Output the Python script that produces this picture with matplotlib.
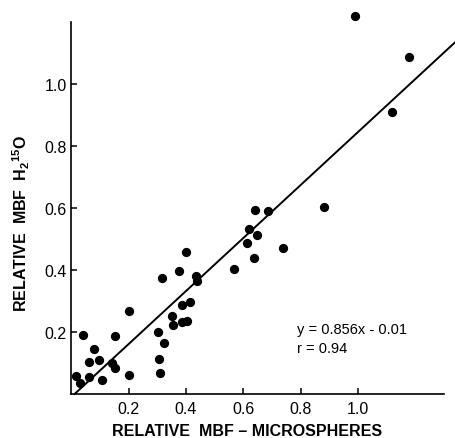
import matplotlib
matplotlib.use("Agg")
import matplotlib.pyplot as plt
import numpy as np

plt.rcParams['font.family'] = ['Liberation Sans', 'DejaVu Sans']
plt.rcParams['mathtext.fontset'] = 'custom'
plt.rcParams['mathtext.rm'] = 'Liberation Sans'
plt.rcParams['mathtext.bf'] = 'Liberation Sans:bold'

# relative MBF, microspheres (x) vs H2-15-O (y)
x_micro = [0.017, 0.031, 0.041, 0.064, 0.064, 0.079, 0.098, 0.107, 0.142, 0.154,
           0.154, 0.202, 0.203, 0.301, 0.306, 0.308, 0.316, 0.324, 0.353, 0.355,
           0.376, 0.386, 0.386, 0.403, 0.402, 0.416, 0.436, 0.438, 0.568, 0.612,
           0.621, 0.640, 0.639, 0.649, 0.687, 0.738, 0.882, 0.991, 1.118, 1.177]
y_h2o = [0.057, 0.035, 0.190, 0.054, 0.105, 0.145, 0.111, 0.046, 0.100, 0.084,
         0.186, 0.269, 0.061, 0.199, 0.113, 0.067, 0.376, 0.165, 0.253, 0.223,
         0.398, 0.287, 0.233, 0.236, 0.459, 0.296, 0.380, 0.366, 0.403, 0.487,
         0.532, 0.594, 0.438, 0.515, 0.591, 0.473, 0.605, 1.220, 0.911, 1.089]

slope = 0.856
intercept = -0.01
r_value = 0.94
ticks = [0.2, 0.4, 0.6, 0.8, 1.0]
tick_labels = ['0.2', '0.4', '0.6', '0.8', '1.0']

fig = plt.figure(figsize=(4.56, 4.39), dpi=100)
ax = fig.add_axes([0.156, 0.100, 0.818, 0.847])

ax.scatter(x_micro, y_h2o, s=32, color='black', zorder=3, clip_on=False)

# regression line
xl = np.array([0.012, 1.34])
ax.plot(xl, slope * xl + intercept, color='black', lw=1.4, clip_on=False)

ax.set_xlim(0, 1.3)
ax.set_ylim(0, 1.2)
ax.set_xticks(ticks)
ax.set_xticklabels(tick_labels)
ax.set_yticks(ticks)
ax.set_yticklabels(tick_labels)
ax.tick_params(direction='in', length=4, width=1.1, labelsize=11.5)
ax.tick_params(axis='x', pad=5)
ax.tick_params(axis='y', pad=3)

for s in ['top', 'right']:
    ax.spines[s].set_visible(False)
for s in ['left', 'bottom']:
    ax.spines[s].set_linewidth(1.2)

ax.set_xlabel('RELATIVE  MBF – MICROSPHERES', fontsize=11.5, fontweight='bold')
ax.xaxis.set_label_coords(0.472, -0.077)
ax.set_ylabel(r'RELATIVE  MBF  H$_\mathbf{2}$$^\mathbf{15}$O', fontsize=11.5, fontweight='bold')
ax.yaxis.set_label_coords(-0.105, 0.46)

ax.text(0.787, 0.21, 'y = %.3fx - %.2f' % (slope, -intercept), fontsize=10.5, va='center')
ax.text(0.787, 0.148, 'r = %.2f' % r_value, fontsize=10.5, va='center')

plt.savefig('out.png', dpi=100)
